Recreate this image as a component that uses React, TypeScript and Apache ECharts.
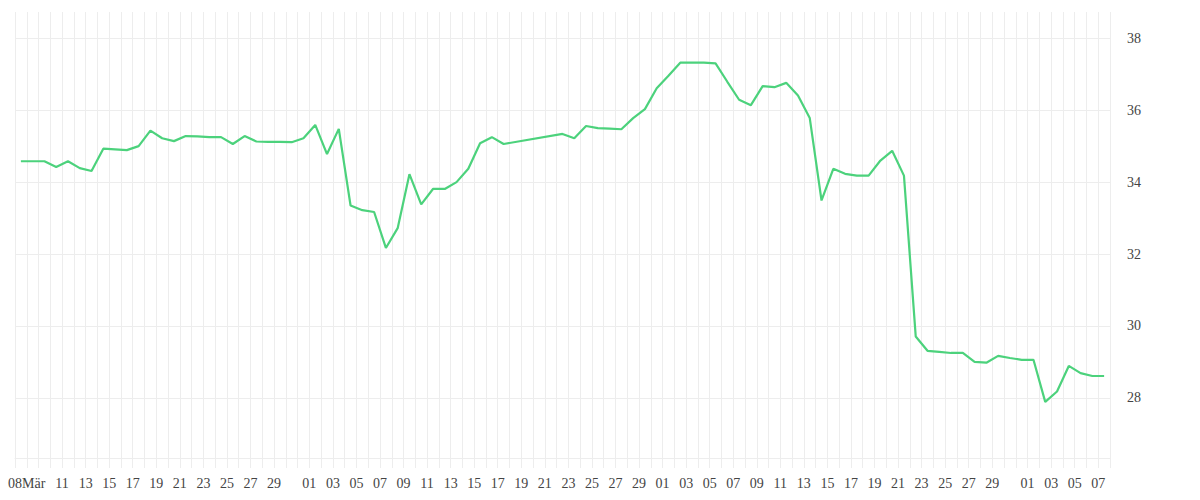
import React, { useEffect, useRef } from "react";
import * as echarts from "echarts";

// ---- data ----
const YEAR = 2022;
const START_DATE = "03-07"; // left edge of the time axis
const END_DATE = "06-08"; // right edge of the time axis

const dates = [
  "03-07", "03-09", "03-10", "03-11", "03-12", "03-13", "03-14", "03-15", "03-16", "03-17",
  "03-18", "03-19", "03-20", "03-21", "03-22", "03-23", "03-24", "03-25", "03-26", "03-27",
  "03-28", "03-29", "03-30", "03-31", "04-01", "04-02", "04-03", "04-04", "04-05", "04-06",
  "04-07", "04-08", "04-09", "04-10", "04-11", "04-12", "04-13", "04-14", "04-15", "04-16",
  "04-17", "04-22", "04-23", "04-24", "04-25", "04-26", "04-27", "04-28", "04-29", "04-30",
  "05-01", "05-02", "05-03", "05-04", "05-05", "05-06", "05-07", "05-08", "05-09", "05-10",
  "05-11", "05-12", "05-13", "05-14", "05-15", "05-16", "05-17", "05-18", "05-19", "05-20",
  "05-21", "05-22", "05-23", "05-24", "05-25", "05-26", "05-27", "05-28", "05-29", "05-30",
  "05-31", "06-01", "06-02", "06-03", "06-04", "06-05", "06-06", "06-07",
];

const values = [
  34.58, 34.58, 34.42, 34.58, 34.39, 34.31, 34.93, 34.91, 34.89, 35.0,
  35.43, 35.22, 35.14, 35.28, 35.27, 35.25, 35.25, 35.06, 35.28, 35.13,
  35.12, 35.12, 35.11, 35.22, 35.59, 34.78, 35.48, 33.35, 33.22, 33.17,
  32.17, 32.72, 34.22, 33.38, 33.81, 33.81, 34.0, 34.37, 35.08, 35.25,
  35.06, 35.34, 35.22, 35.56, 35.5, 35.49, 35.47, 35.78, 36.03, 36.61,
  36.96, 37.32, 37.32, 37.32, 37.3, 36.79, 36.29, 36.14, 36.67, 36.64,
  36.76, 36.41, 35.78, 33.49, 34.37, 34.23, 34.18, 34.18, 34.6, 34.87,
  34.18, 29.71, 29.31, 29.28, 29.25, 29.25, 29.0, 28.98, 29.17, 29.11,
  29.06, 29.06, 27.89, 28.18, 28.89, 28.69, 28.61, 28.61,
];

// x tick labels: [date, text]
const xTickLabels: [string, string][] = [
  ["03-08", "08Mär"], ["03-11", "11"], ["03-13", "13"], ["03-15", "15"], ["03-17", "17"],
  ["03-19", "19"], ["03-21", "21"], ["03-23", "23"], ["03-25", "25"], ["03-27", "27"],
  ["03-29", "29"],
  ["04-01", "01"], ["04-03", "03"], ["04-05", "05"], ["04-07", "07"], ["04-09", "09"],
  ["04-11", "11"], ["04-13", "13"], ["04-15", "15"], ["04-17", "17"], ["04-19", "19"],
  ["04-21", "21"], ["04-23", "23"], ["04-25", "25"], ["04-27", "27"], ["04-29", "29"],
  ["05-01", "01"], ["05-03", "03"], ["05-05", "05"], ["05-07", "07"], ["05-09", "09"],
  ["05-11", "11"], ["05-13", "13"], ["05-15", "15"], ["05-17", "17"], ["05-19", "19"],
  ["05-21", "21"], ["05-23", "23"], ["05-25", "25"], ["05-27", "27"], ["05-29", "29"],
  ["06-01", "01"], ["06-03", "03"], ["06-05", "05"], ["06-07", "07"],
];

const Y_MIN = 26.33;
const Y_MAX = 38.73;

// ---- helpers ----
const DAY = 86400000;
function toUTC(md: string): number {
  const [m, d] = md.split("-").map(Number);
  return Date.UTC(YEAR, m - 1, d);
}
function dayIndex(md: string): number {
  return Math.round((toUTC(md) - toUTC(START_DATE)) / DAY);
}

const GRID_COLOR = "#ededed";
const LINE_COLOR = "#4cd27c";
const TEXT_COLOR = "#444";

export default function App() {
  const ref = useRef<HTMLDivElement>(null);

  useEffect(() => {
    if (!ref.current) return;
    const chart = echarts.init(ref.current, undefined, { renderer: "svg" });

    const labelMap = new Map<number, string>();
    xTickLabels.forEach(([d, t]) => labelMap.set(dayIndex(d), t));

    const seriesData = dates.map((d, i) => [dayIndex(d) + 0.5, values[i]]);

    chart.setOption({
      animation: false,
      backgroundColor: "#ffffff",
      grid: { left: 15, right: 90, top: 12, bottom: 42, containLabel: false },
      xAxis: {
        type: "value",
        min: 0,
        max: dayIndex(END_DATE),
        interval: 1,
        axisLine: { show: true, lineStyle: { color: GRID_COLOR, width: 1 } },
        axisTick: { show: true, length: 10, lineStyle: { color: GRID_COLOR, width: 1 } },
        splitLine: { show: true, lineStyle: { color: GRID_COLOR, width: 1 } },
        axisLabel: {
          margin: 18,
          color: TEXT_COLOR,
          fontFamily: "serif",
          fontSize: 14,
          showMinLabel: true,
          showMaxLabel: true,
          formatter: (v: number) => labelMap.get(Math.round(v)) ?? "",
        },
      },
      yAxis: {
        type: "value",
        position: "right",
        min: Y_MIN,
        max: Y_MAX,
        splitNumber: 6,
        axisLine: { show: false },
        axisTick: { show: false },
        splitLine: {
          show: true,
          showMinLine: false,
          showMaxLine: false,
          lineStyle: { color: GRID_COLOR, width: 1 },
        },
        axisLabel: {
          margin: 17,
          color: TEXT_COLOR,
          fontFamily: "serif",
          fontSize: 14,
          showMinLabel: false,
          showMaxLabel: false,
          formatter: (v: number) => (Number.isInteger(v) ? String(v) : ""),
        },
      },
      series: [
        {
          type: "line",
          data: seriesData,
          showSymbol: false,
          symbol: "none",
          lineStyle: { color: LINE_COLOR, width: 2.2 },
          itemStyle: { color: LINE_COLOR },
        },
      ],
    });

    return () => chart.dispose();
  }, []);

  return (
    <div
      ref={ref}
      style={{ position: "absolute", left: 0, top: 0, width: 1200, height: 500 }}
    />
  );
}
